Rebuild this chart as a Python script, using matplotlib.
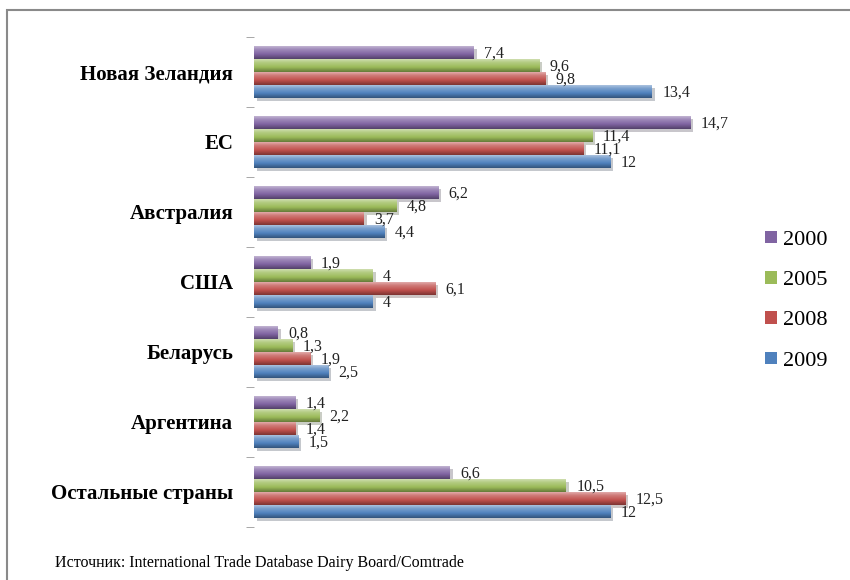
import numpy as np
import matplotlib
matplotlib.use('Agg')
import matplotlib.pyplot as plt
import matplotlib.patheffects as pe
from matplotlib.colors import to_rgb, LinearSegmentedColormap
from matplotlib.patches import Rectangle, Patch

plt.rcParams['font.family'] = ['Liberation Serif', 'DejaVu Serif']

# данные: импорт молочной продукции по странам
countries = ['Новая Зеландия', 'ЕС', 'Австралия', 'США', 'Беларусь', 'Аргентина', 'Остальные страны']
years = ['2000', '2005', '2008', '2009']
v2000 = [7.4, 14.7, 6.2, 1.9, 0.8, 1.4, 6.6]
v2005 = [9.6, 11.4, 4.8, 4.0, 1.3, 2.2, 10.5]
v2008 = [9.8, 11.1, 3.7, 6.1, 1.9, 1.4, 12.5]
v2009 = [13.4, 12.0, 4.4, 4.0, 2.5, 1.5, 12.0]
series = [v2000, v2005, v2008, v2009]
colors = ['#8064A2', '#9BBB59', '#C0504D', '#4F81BD']
source = 'Источник: International Trade Database Dairy Board/Comtrade'


def mix(c, other, t):
    c = np.array(to_rgb(c))
    return tuple(c * (1 - t) + np.array(other) * t)


fig = plt.figure(figsize=(8.5, 5.8), dpi=100)
ax = fig.add_axes([0.2988, 0.0914, 0.559, 0.845])

y = np.arange(len(countries))
h = 0.186
offsets = [-1.5 * h, -0.5 * h, 0.5 * h, 1.5 * h]

for vals, col, off in zip(series, colors, offsets):
    bars = ax.barh(y + off, vals, height=h, color=col, edgecolor='none',
                   path_effects=[pe.SimplePatchShadow(offset=(2, -2), alpha=0.25), pe.Normal()])
    # объёмная заливка: светлый верх, тёмный низ
    cmap = LinearSegmentedColormap.from_list('g', [(0, mix(col, (1, 1, 1), 0.6)),
                                                   (0.3, mix(col, (1, 1, 1), 0.25)),
                                                   (0.65, to_rgb(col)),
                                                   (1, mix(col, (0, 0, 0), 0.35))])
    grad = np.linspace(0, 1, 64).reshape(-1, 1)
    for b, v in zip(bars, vals):
        x0, y0, w, hh = b.get_x(), b.get_y(), b.get_width(), b.get_height()
        im = ax.imshow(grad, extent=[x0, x0 + w, y0 + hh, y0], aspect='auto',
                       cmap=cmap, origin='upper', zorder=2)
        im.set_clip_path(b)
        ax.text(v + 0.35, y0 + hh / 2 + 0.02, f'{v:g}'.replace('.', ','),
                va='center', ha='left', fontsize=11.5, color='#222222')

ax.set_xlim(0, 16)
ax.set_ylim(len(countries) - 0.5, -0.5)
ax.set_yticks(y)
ax.set_yticklabels(countries, fontsize=15, fontweight='bold')
ax.set_yticks(np.arange(len(countries) + 1) - 0.5, minor=True)
ax.tick_params(axis='y', which='major', length=0, pad=15)
ax.tick_params(axis='y', which='minor', length=6, color='#999999')
ax.set_xticks([])
for s in ax.spines.values():
    s.set_visible(False)

handles = [Patch(facecolor=c, edgecolor='none') for c in colors]
fig.legend(handles, years, loc='upper left', bbox_to_anchor=(0.877, 0.637),
           frameon=False, fontsize=16, handlelength=0.5, handleheight=0.5,
           handletextpad=0.3, labelspacing=0.95)

fig.text(0.065, 0.03, source, fontsize=11.5, ha='left', va='center')

fig.patches.append(Rectangle((7 / 850, -0.1), 1.2, 1 - 10 / 580 + 0.1,
                             transform=fig.transFigure, fill=False,
                             edgecolor='#8a8a8a', linewidth=1.5))

fig.savefig('out.png', dpi=100)
